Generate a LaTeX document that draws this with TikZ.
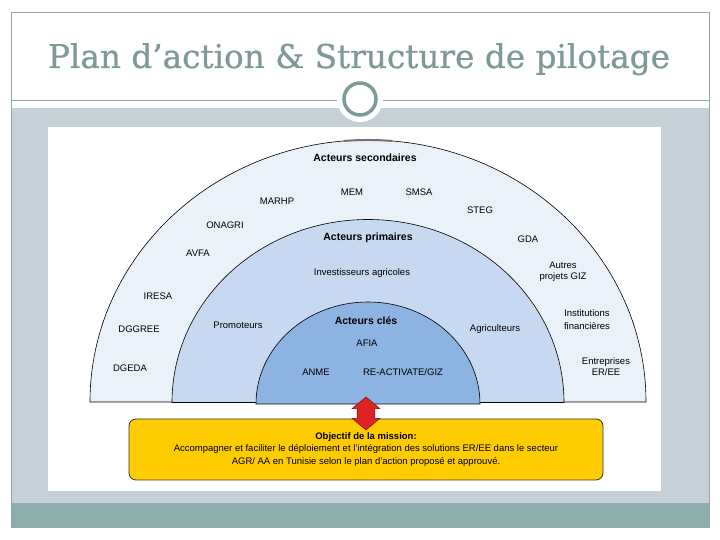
\documentclass[tikz,border=0pt]{standalone}
\usepackage{fontspec}
\setmainfont{Liberation Sans}
\newfontfamily\titlefont[FakeBold=0.7]{DejaVu Serif}
\usetikzlibrary{shapes.arrows}
\definecolor{slateTeal}{RGB}{127,153,153}
\definecolor{bandGray}{RGB}{198,209,215}
\definecolor{barTeal}{RGB}{139,173,172}
\definecolor{outerBlue}{RGB}{235,241,248}
\definecolor{midBlue}{RGB}{198,217,240}
\definecolor{innerBlue}{RGB}{141,179,226}
\definecolor{missionGold}{RGB}{255,204,0}
\definecolor{linkRed}{RGB}{222,34,34}
\newcommand{\drawHalfDisc}[4]{
  \draw[black, line width=0.6pt, fill=#1] (368-#2,#4) arc[start angle=180, end angle=0, x radius=#2pt, y radius=#3pt] -- cycle;
}

\begin{document}
\begin{tikzpicture}[x=1pt, y=1pt,
  lbl/.style={font=\fontsize{9.5}{11}\selectfont, align=center, inner sep=1pt},
  ringhead/.style={font=\fontsize{10.5}{12}\selectfont\bfseries, inner sep=1pt}]
  \useasboundingbox (0,0) rectangle (720,540);
  \fill[white] (0,0) rectangle (720,540);
  \fill[bandGray] (11,37) rectangle (709,432);
  \fill[barTeal] (11,13) rectangle (709,37);
  \draw[slateTeal!85, line width=0.6pt] (11,13) rectangle (709,528);
  \draw[slateTeal!85, line width=0.6pt] (11,440) -- (709,440);
  \fill[white] (360,441) circle (23pt);
  \draw[slateTeal, line width=3.5pt] (360,441) circle (16pt);
  \node[anchor=base, text=slateTeal, font=\titlefont\fontsize{32.7}{38}\selectfont] (title) at (359,472) {Plan d’action \& Structure de pilotage};
  \fill[white] (48,49) rectangle (661,413);

  \drawHalfDisc{outerBlue}{278}{262}{138}
  \draw[black!55, line width=2pt] (368,400) arc[start angle=90, end angle=95, x radius=278pt, y radius=262pt];
  \draw[black!55, line width=2pt] (368,400) arc[start angle=90, end angle=85, x radius=278pt, y radius=262pt];
  \drawHalfDisc{midBlue}{196}{183}{137.5}
  \drawHalfDisc{innerBlue}{112}{102}{136}

  \node[ringhead] (secondaires) at (365,382) {Acteurs secondaires};
  \node[lbl] (mem) at (352,348) {MEM};
  \node[lbl] (smsa) at (419,348) {SMSA};
  \node[lbl] (marhp) at (277,339) {MARHP};
  \node[lbl] (steg) at (480,330) {STEG};
  \node[lbl] (onagri) at (225,315) {ONAGRI};
  \node[lbl] (gda) at (528,301) {GDA};
  \node[lbl] (avfa) at (198,287) {AVFA};
  \node[lbl] (autres) at (563,268) {Autres\\projets GIZ};
  \node[lbl] (iresa) at (158,244) {IRESA};
  \node[lbl, font=\fontsize{9.5}{13}\selectfont] (institutions) at (587,220) {Institutions\\financières};
  \node[lbl] (dggree) at (139,211) {DGGREE};
  \node[lbl] (dgeda) at (130,172) {DGEDA};
  \node[lbl] (entreprises) at (606,173) {Entreprises\\ER/EE};

  \node[ringhead] (primaires) at (368,302) {Acteurs primaires};
  \node[lbl] (investisseurs) at (362,267) {Investisseurs agricoles};
  \node[lbl] (promoteurs) at (238,215) {Promoteurs};
  \node[lbl] (agriculteurs) at (495,211) {Agriculteurs};

  \node[ringhead] (cles) at (366,219) {Acteurs clés};
  \node[lbl] (afia) at (367,197) {AFIA};
  \node[lbl] (anme) at (316,168) {ANME};
  \node[lbl] (reactivate) at (403,168) {RE-ACTIVATE/GIZ};

  \node[draw=black!80, line width=0.8pt, fill=missionGold, rounded corners=7pt, minimum width=474pt, minimum height=61pt, align=center, inner sep=2pt, font=\fontsize{9.5}{12.5}\selectfont] (mission) at (366,90.5) {\textbf{Objectif de la mission:}\\Accompagner et faciliter le déploiement et l'intégration des solutions ER/EE dans le secteur\\AGR/ AA en Tunisie selon le plan d'action proposé et approuvé.};
  \node[double arrow, rotate=90, fill=linkRed, draw=linkRed!60!black, line width=0.6pt, minimum height=33pt, inner xsep=0pt, inner ysep=8.5pt, double arrow head extend=5pt, double arrow tip angle=100] (link) at (366,126.5) {};
\end{tikzpicture}
\end{document}
